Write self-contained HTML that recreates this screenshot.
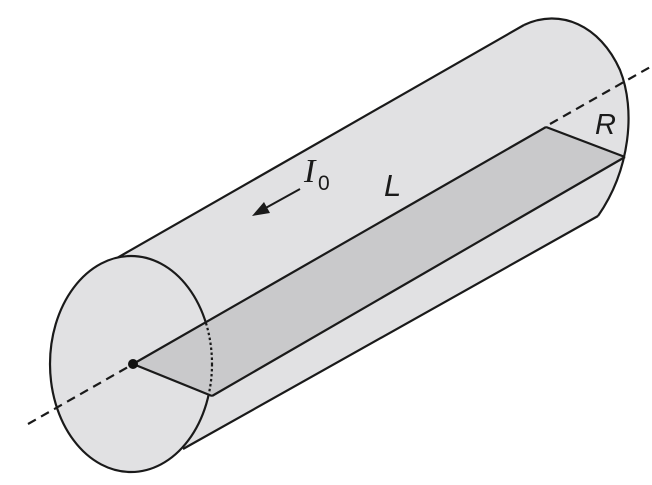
<!DOCTYPE html>
<html><head><meta charset="utf-8"><style>html,body{margin:0;padding:0;background:#fff;}svg{display:block;}</style></head>
<body>
<svg width="652" height="485" viewBox="0 0 652 485">
  <defs>
    <clipPath id="solidClip"><path d="M0,0 H652 V485 H0 Z M200,322 H240 V394 H200 Z" clip-rule="evenodd"/></clipPath>
    <clipPath id="dotClip"><rect x="200" y="322" width="40" height="72"/></clipPath>
  </defs>
  <!-- body -->
  <path d="M110,262 L524,25 C560,8 600,25 620,70 C636,110 630,170 598,216 L183,449 Z" fill="#e1e1e3" stroke="none"/>
  <line x1="110" y1="262" x2="524" y2="25" stroke="#1a1a1a" stroke-width="2.2"/>
  <line x1="183" y1="449" x2="598" y2="216" stroke="#1a1a1a" stroke-width="2.2"/>
  <path d="M524,25 C560,8 600,25 620,70 C636,110 630,170 598,216" fill="none" stroke="#1a1a1a" stroke-width="2.2"/>
  <!-- left face -->
  <ellipse cx="131" cy="364" rx="81" ry="108" fill="#e1e1e3" stroke="none"/>
  <!-- plane -->
  <polygon points="133,364 546,127 625,157 212,396" fill="#c9c9cb" stroke="none"/>
  <ellipse cx="131" cy="364" rx="81" ry="108" fill="none" stroke="#1a1a1a" stroke-width="2.2" clip-path="url(#solidClip)"/>
  <ellipse cx="131" cy="364" rx="81" ry="108" fill="none" stroke="#1a1a1a" stroke-width="2.2" stroke-dasharray="2.5,2.5" clip-path="url(#dotClip)"/>
  <line x1="133" y1="364" x2="546" y2="127" stroke="#1a1a1a" stroke-width="2.2"/>
  <line x1="212" y1="396" x2="625" y2="157" stroke="#1a1a1a" stroke-width="2.2"/>
  <line x1="133" y1="364" x2="212" y2="396" stroke="#1a1a1a" stroke-width="2.2"/>
  <line x1="546" y1="127" x2="625" y2="157" stroke="#1a1a1a" stroke-width="2.2"/>
  <!-- axis dashes -->
  <line x1="28" y1="424" x2="128" y2="367" stroke="#1a1a1a" stroke-width="2.2" stroke-dasharray="9,6"/>
  <line x1="550" y1="124" x2="652" y2="66" stroke="#1a1a1a" stroke-width="2.2" stroke-dasharray="9,6"/>
  <circle cx="133" cy="364" r="5" fill="#111"/>
  <!-- arrow -->
  <line x1="300" y1="189" x2="262" y2="210" stroke="#1a1a1a" stroke-width="2"/>
  <polygon points="252,216 264,202 270,213" fill="#1a1a1a"/>
  <text x="304" y="182" font-family="Liberation Serif, serif" font-style="italic" font-size="34" fill="#1a1a1a">I</text>
  <text x="318" y="190" font-family="Liberation Sans, sans-serif" font-size="21" fill="#1a1a1a">0</text>
  <text x="384" y="196" font-family="Liberation Sans, sans-serif" font-style="italic" font-size="31" fill="#1a1a1a">L</text>
  <text x="595" y="134" font-family="Liberation Sans, sans-serif" font-style="italic" font-size="29" fill="#1a1a1a">R</text>
</svg>
</body></html>
